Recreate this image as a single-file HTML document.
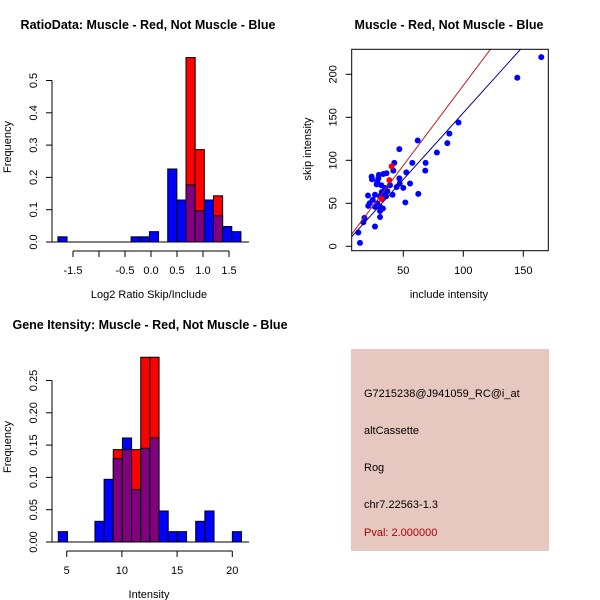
<!DOCTYPE html>
<html><head><meta charset="utf-8"><style>
body{margin:0;background:#fff;}
svg{display:block;font-family:"Liberation Sans",sans-serif;}
</style></head><body>
<svg id="c" width="600" height="600" viewBox="0 0 600 600">
<rect width="600" height="600" fill="#fff"/>
<text x="148" y="29" text-anchor="middle" font-size="12.5" font-weight="bold">RatioData: Muscle - Red, Not Muscle - Blue</text>
<text x="449" y="29" text-anchor="middle" font-size="12.5" font-weight="bold">Muscle - Red, Not Muscle - Blue</text>
<text x="150" y="329" text-anchor="middle" font-size="12.5" font-weight="bold">Gene Itensity: Muscle - Red, Not Muscle - Blue</text>
<text x="149" y="298" text-anchor="middle" font-size="11">Log2 Ratio Skip/Include</text>
<text x="449" y="298" text-anchor="middle" font-size="11">include intensity</text>
<text x="149" y="598" text-anchor="middle" font-size="11">Intensity</text>
<text transform="translate(11,147) rotate(-90)" text-anchor="middle" font-size="11">Frequency</text>
<text transform="translate(311,149) rotate(-90)" text-anchor="middle" font-size="11">skip intensity</text>
<text transform="translate(11,447) rotate(-90)" text-anchor="middle" font-size="11">Frequency</text>
<g>
<rect x="351" y="349" width="198" height="202" fill="#e6c8c0"/>
<text x="364" y="397" font-size="11">G7215238@J941059_RC@i_at</text>
<text x="364" y="434" font-size="11">altCassette</text>
<text x="364" y="471" font-size="11">Rog</text>
<text x="364" y="508" font-size="11">chr7.22563-1.3</text>
<text x="364" y="536" font-size="11" fill="#b00000">Pval: 2.000000</text>
</g>
</svg>
<script>
// Ratio histogram data
const ratioBlue=[0.016,0,0,0,0,0,0,0,0.016,0.016,0.032,0,0.226,0.13,0.177,0.097,0.13,0.081,0.048,0.032];
const ratioRed=[0,0,0,0,0,0,0,0,0,0,0,0,0,0,0.571,0.286,0,0.143,0,0];
const ratioYTicks=["0.0","0.1","0.2","0.3","0.4","0.5"];
const ratioXTicks=[-1.5,-1,-0.5,0,0.5,1,1.5];
const ratioXLabels=["-1.5","","-0.5","0.0","0.5","1.0","1.5"];
// Intensity histogram data
const intBlue=[0.016,0,0,0,0.032,0.097,0.129,0.161,0.081,0.145,0.161,0.048,0.016,0.016,0,0.032,0.048,0,0,0.016];
const intRed=[0,0,0,0,0,0,0.143,0.143,0.143,0.286,0.286,0,0,0,0,0,0,0,0,0];
const intYTicks=["0.00","0.05","0.10","0.15","0.20","0.25"];
const intXTicks=[5,10,15,20];
// Scatter data
const incBlue=[165,145,96,88.4,86.7,78,68.6,68.3,62,62.5,57.5,52.5,51.7,55.6,50,46.7,46.7,47,44.5,42.5,41.7,41,38.9,36,36.7,33.3,31.7,35.6,33,30.6,29.7,28.3,29.2,27.8,26.4,24.5,28.3,30.6,30.6,33,30.6,23.6,23.9,20.6,20.8,22,26.4,26.4,17.6,16.7,12.5,13.9,32,34.7];
const skipBlue=[220,196,144,131,120,109,97,88,123,61,97,86,51,73,68,113,79,73,69,97,88,60,71,85,64,84,71,58,61,58,83,75,79,72,60,54,50,46,41,44,34,81,78,59,47,50,46,23,33,28,16,4,63,68];
const incRed=[40.3,38.4,32];
const skipRed=[93,77,55];
const slopeBlue=1.55, interBlue=0.2;
const slopeRed=1.86, interRed=1.0;

const svg=document.getElementById('c');
const NS='http://www.w3.org/2000/svg';
function mk(tag,at,parent){const e=document.createElementNS(NS,tag);for(const k in at)e.setAttribute(k,at[k]);(parent||svg).appendChild(e);return e;}

function hist(blue,red,x0,bw,y0,pxPerUnit,name){
  const g=mk('g',{});
  
  
  for(let i=0;i<blue.length;i++){
    const x=x0+i*bw;const b=blue[i],r=red[i];
    const draw=(v,fill,n)=>{if(v<=0)return;const h=v*pxPerUnit;const rc=mk('rect',{x:x,y:y0-h,width:bw,height:h,fill:fill,stroke:'#000','stroke-width':1},g);
      
      };
    if(r>b){draw(r,'#ff0000',name+'-red-bar');draw(b,'#800080',name+'-overlap-bar');}
    else{draw(b,'#0000ff',name+'-blue-bar');draw(r,'#800080',name+'-overlap-bar');}
  }
}
function yAxis(x,y0,step,labels,name){
  const g=mk('g',{});
  
  
  const top=y0-step*(labels.length-1);
  mk('line',{x1:x,y1:y0,x2:x,y2:top,stroke:'#000'},g);
  labels.forEach((l,i)=>{const y=y0-i*step;mk('line',{x1:x,y1:y,x2:x-6,y2:y,stroke:'#000'},g);
    const t=mk('text',{transform:`translate(${x-15},${y}) rotate(-90)`,'text-anchor':'middle','font-size':11},g);t.textContent=l;});
}
function xAxis(vals,labels,sx,y,name){
  const g=mk('g',{});
  
  
  mk('line',{x1:sx(vals[0]),y1:y,x2:sx(vals[vals.length-1]),y2:y,stroke:'#000'},g);
  vals.forEach((v,i)=>{const x=sx(v);mk('line',{x1:x,y1:y,x2:x,y2:y+6,stroke:'#000'},g);
    const t=mk('text',{x:x,y:y+23,'text-anchor':'middle','font-size':11},g);t.textContent=labels[i];});
}
// Ratio histogram
const rSx=v=>151+v*52;
const rBw=9.15, rX0=rSx(-1.79);
mk('line',{x1:50,y1:242,x2:249,y2:242,stroke:'#000'});
hist(ratioBlue,ratioRed,rX0,rBw,242,323,'ratio');
yAxis(52,242,32.3,ratioYTicks,'ratio-y-axis');
xAxis(ratioXTicks,ratioXLabels,rSx,251,'ratio-x-axis');
// Intensity histogram
const iSx=v=>66.7+(v-5)*11.04;
mk('line',{x1:50,y1:542,x2:249,y2:542,stroke:'#000'});
hist(intBlue,intRed,58.3,9.16,542,646,'intensity');
yAxis(52,542,32.3,intYTicks,'intensity-y-axis');
xAxis(intXTicks,intXTicks.map(String),iSx,551,'intensity-x-axis');
// Scatter
const sX=v=>343.3+v*1.2, sY=v=>246.3-v*0.86;
const clip=mk('clipPath',{id:'sc'});mk('rect',{x:351.7,y:49.3,width:196.6,height:201.4},clip);
const pts=mk('g',{'clip-path':'url(#sc)'});


incBlue.forEach((v,i)=>{const c=mk('circle',{cx:sX(v),cy:sY(skipBlue[i]),r:3,fill:'#0000ff'},pts);
  
  });
incRed.forEach((v,i)=>{const c=mk('circle',{cx:sX(v),cy:sY(skipRed[i]),r:3,fill:'#ff0000'},pts);
  
  });
const lb=mk('line',{x1:sX(0),y1:sY(interBlue),x2:sX(200),y2:sY(interBlue+slopeBlue*200),stroke:'#00008b'},pts);


const lr=mk('line',{x1:sX(0),y1:sY(interRed),x2:sX(200),y2:sY(interRed+slopeRed*200),stroke:'#b22222'},pts);


const box=mk('rect',{x:351.7,y:49.3,width:196.6,height:201.4,fill:'none',stroke:'#000'});


const sxT=[50,100,150], syT=[0,50,100,150,200];
const gx=mk('g',{});


sxT.forEach(v=>{mk('line',{x1:sX(v),y1:250.7,x2:sX(v),y2:256.7,stroke:'#000'},gx);const t=mk('text',{x:sX(v),y:274,'text-anchor':'middle','font-size':11},gx);t.textContent=v;});
const gy=mk('g',{});


syT.forEach(v=>{mk('line',{x1:351.7,y1:sY(v),x2:345.7,y2:sY(v),stroke:'#000'},gy);const t=mk('text',{transform:`translate(336.7,${sY(v)}) rotate(-90)`,'text-anchor':'middle','font-size':11},gy);t.textContent=v;});
</script>
</body></html>
